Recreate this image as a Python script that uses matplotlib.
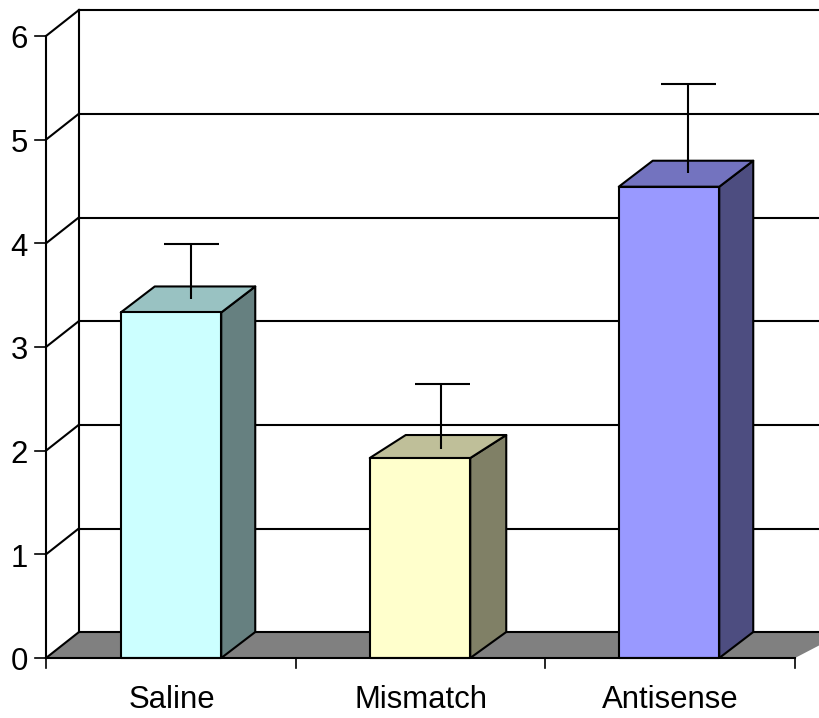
import matplotlib
matplotlib.use("Agg")
import matplotlib.pyplot as plt
from matplotlib.patches import Polygon

plt.rcParams['font.family'] = ['Liberation Sans', 'DejaVu Sans']

categories = ["Saline", "Mismatch", "Antisense"]
values = [3.333, 1.929, 4.546]
errors = [0.53, 0.627, 0.858]
front_colors = ["#CCFFFF", "#FFFFCC", "#9999FF"]
top_colors = ["#99C2C2", "#BFBF99", "#7373BF"]
side_colors = ["#668080", "#808066", "#4D4D80"]
y_ticks = [0, 1, 2, 3, 4, 5, 6]

W, H = 820, 718
PX_X = 249.0           # pixels per category
PX_Y = 103.67          # pixels per value unit
X0, Y0 = 46, 658       # pixel of front-left origin
FIRST_BAR_PX = 171


def fx(px):
    return px / PX_X


def fy(px):
    return px / PX_Y


fig = plt.figure(figsize=(W / 100, H / 100), dpi=100)
ax = fig.add_axes([0, 0, 1, 1])
ax.set_xlim(-fx(FIRST_BAR_PX), fx(W - FIRST_BAR_PX))
ax.set_ylim(-fy(H - Y0), fy(Y0))
ax.axis("off")

dx, dy = fx(33), fy(26)
bar_w = fx(100.5)
lw = 1.5
xl = -fx(FIRST_BAR_PX - X0)
xr = xl + fx(749)
xmax = ax.get_xlim()[1]
ymax = y_ticks[-1]

# per-bar 3D quirks of the original renderer, in pixels
bar_depth_x = [34, 36, 34]
bar_depth_y = [26, 23, 26]
err_x_offset = [20, 21.5, 18.5]
err_y_offset = [13.5, 9, 13.4]

# Floor
ax.add_patch(Polygon([(xl, 0), (xl + dx, dy), (xmax + 0.1, dy), (xmax + 0.1, dy), (xr, 0)],
                     closed=True, fc="#808080", ec="none", zorder=1))
ax.plot([xl + dx, xmax], [dy, dy], color="k", lw=lw, zorder=2)

# Walls and gridlines
ax.plot([xl, xl], [0, ymax], color="k", lw=lw, zorder=2)
ax.plot([xl + dx, xl + dx], [dy, ymax + dy], color="k", lw=lw, zorder=2)
for t in y_ticks:
    ax.plot([xl, xl + dx], [t, t + dy], color="k", lw=lw, zorder=2)
    ax.plot([xl - fx(11), xl], [t, t], color="k", lw=1.2, zorder=2)
    ax.text(xl - fx(18), t - fy(12.5), str(t), ha="right", va="baseline",
            fontsize=22.4, color="k")
    if t > 0:
        ax.plot([xl + dx, xmax], [t + dy - fy(0.3), t + dy - fy(0.3)], color="k", lw=lw, zorder=2)

# Front axis and ticks
ax.plot([xl, xr], [0, 0], color="k", lw=lw, zorder=6)
for k in range(len(categories) + 1):
    tx = xl + k * (xr - xl) / len(categories)
    ax.plot([tx, tx], [0, -fy(10)], color="k", lw=1.2, zorder=2)

# Bars
for i, (v, e) in enumerate(zip(values, errors)):
    l, r = i - bar_w / 2, i + bar_w / 2
    ddx = fx(bar_depth_x[i])
    ddy = fy(bar_depth_y[i])
    ax.add_patch(Polygon([(r, 0), (r + ddx, dy), (r + ddx, v + ddy), (r, v)],
                         closed=True, fc=side_colors[i], ec="k", lw=lw, zorder=3, joinstyle="round"))
    ax.add_patch(Polygon([(l, v), (l + ddx, v + ddy), (r + ddx, v + ddy), (r, v)],
                         closed=True, fc=top_colors[i], ec="k", lw=lw, zorder=3, joinstyle="round"))
    ax.add_patch(Polygon([(l, 0), (l, v), (r, v), (r, 0)],
                         closed=True, fc=front_colors[i], ec="k", lw=lw, zorder=4, joinstyle="round"))
    cx = i + fx(err_x_offset[i])
    base = v + fy(err_y_offset[i])
    ax.vlines(cx, base, base + e + fy(1.5), color="k", lw=lw, zorder=5)
    ax.hlines(base + e, cx + fx(1) - fx(27.5), cx + fx(1) + fx(27.5), color="k", lw=lw, zorder=5)
    ax.text(i + fx(1), -fy(50), categories[i], ha="center", va="baseline",
            fontsize=22.4, color="k")

fig.savefig("out.png", dpi=100, facecolor="white")
